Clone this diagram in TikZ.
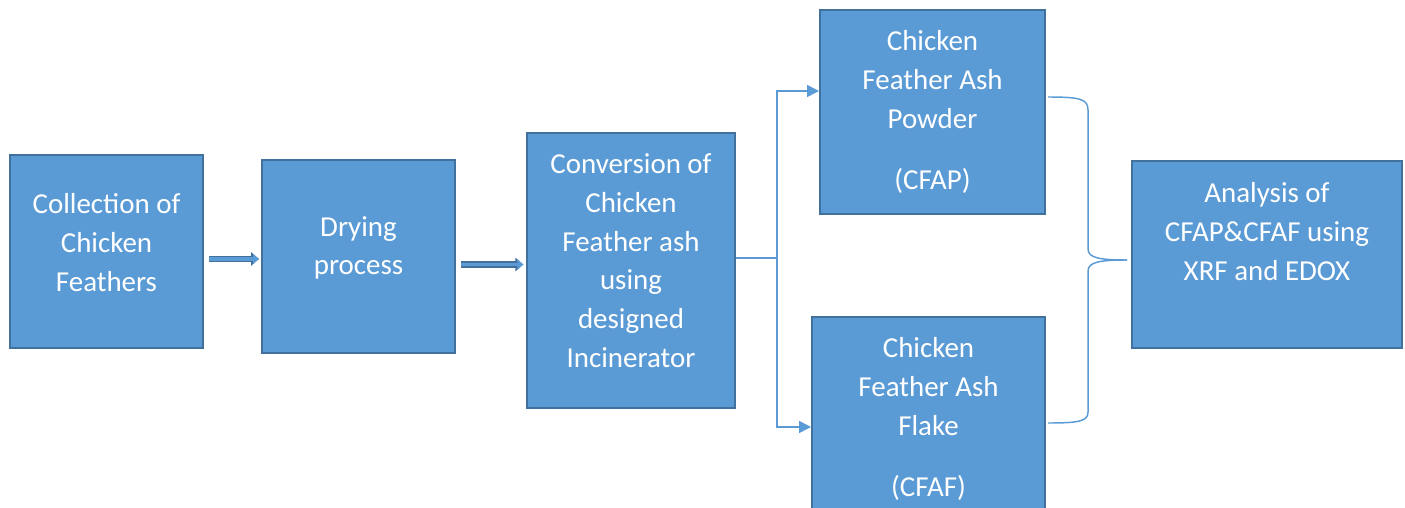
\documentclass[tikz,border=0pt]{standalone}
\usepackage{fontspec}
\setmainfont{Carlito}
\usepackage{tikz}
\usetikzlibrary{arrows.meta}

\definecolor{boxfill}{HTML}{5B9BD5}
\definecolor{boxline}{HTML}{41719C}

\tikzset{
  stage/.style={draw=boxline, fill=boxfill, line width=1.5pt, text=white,
    align=center, inner sep=0pt, font=\fontsize{21.7}{29}\selectfont},
  link/.style={boxfill, line width=1.1pt},
  linkarrow/.style={link, -{Triangle[length=9pt,width=9pt]}},
  fatarrow/.style={boxfill, line width=2.6pt, -{Triangle[length=4.5pt,width=7pt]},
    preaction={draw=boxline, line width=5pt, -{Triangle[length=6pt,width=10pt]}}}
}

\begin{document}
\begin{tikzpicture}[x=0.75pt, y=-0.75pt]
        \clip (0,0) rectangle (1405,507);

        % process boxes
        \node[stage, minimum width=144.75pt, minimum height=144.75pt, text depth=13.5pt] (collect) at (106.5,251.5)
          {Collection of\\Chicken\\Feathers};
        \node[stage, minimum width=144.75pt, minimum height=144.75pt, text depth=16.5pt] (drying) at (358.5,256.5)
          {Drying\\process};
        \node[stage, minimum width=156pt, minimum height=206.25pt, text depth=15pt] (convert) at (631,270.5)
          {Conversion of\\Chicken\\Feather ash\\using\\designed\\Incinerator};
        \node[stage, minimum width=168.75pt, minimum height=153pt] (powder) at (932.5,112)
          {Chicken\\Feather Ash\\Powder\\[17pt](CFAP)};
        \node[stage, minimum width=174.75pt, minimum height=153pt] (flake) at (928.5,419)
          {Chicken\\Feather Ash\\Flake\\[17pt](CFAF)};
        \node[stage, minimum width=202.5pt, minimum height=140.25pt, text depth=34.5pt] (analysis) at (1267,254.5)
          {Analysis of\\CFAP\&CFAF using\\XRF and EDOX};

        % block arrows
        \draw[fatarrow, shorten <=3.75pt, shorten >=1.5pt]
          ([yshift=-5.6pt]collect.east) -- ([yshift=-5.6pt]collect.east -| drying.west);
        \draw[fatarrow, shorten <=3.75pt, shorten >=2pt]
          ([yshift=-6pt]drying.east) -- ([yshift=-6pt]drying.east -| convert.west);

        % split to the two products
        \draw[link] (convert.east |- 0,258) -- (777,258) coordinate (split);
        \draw[linkarrow] (split) |- ([yshift=15.75pt]powder.west);
        \draw[linkarrow] (split) |- ([yshift=-6pt]flake.west);

        % brace into analysis
        \coordinate (btop) at (1048,97);
        \coordinate (bbot) at (1048,423);
        \coordinate (btip) at (1127,260);
        \draw[link] (btop) .. controls (1080,97) and (1088,99) .. (1088,110) -- (1088,249)
          .. controls (1088,258) and (1100,260) .. (btip);
        \draw[link] (btip) .. controls (1100,260) and (1088,262) .. (1088,271) -- (1088,412)
          .. controls (1088,421) and (1080,423) .. (bbot);
\end{tikzpicture}
\end{document}
